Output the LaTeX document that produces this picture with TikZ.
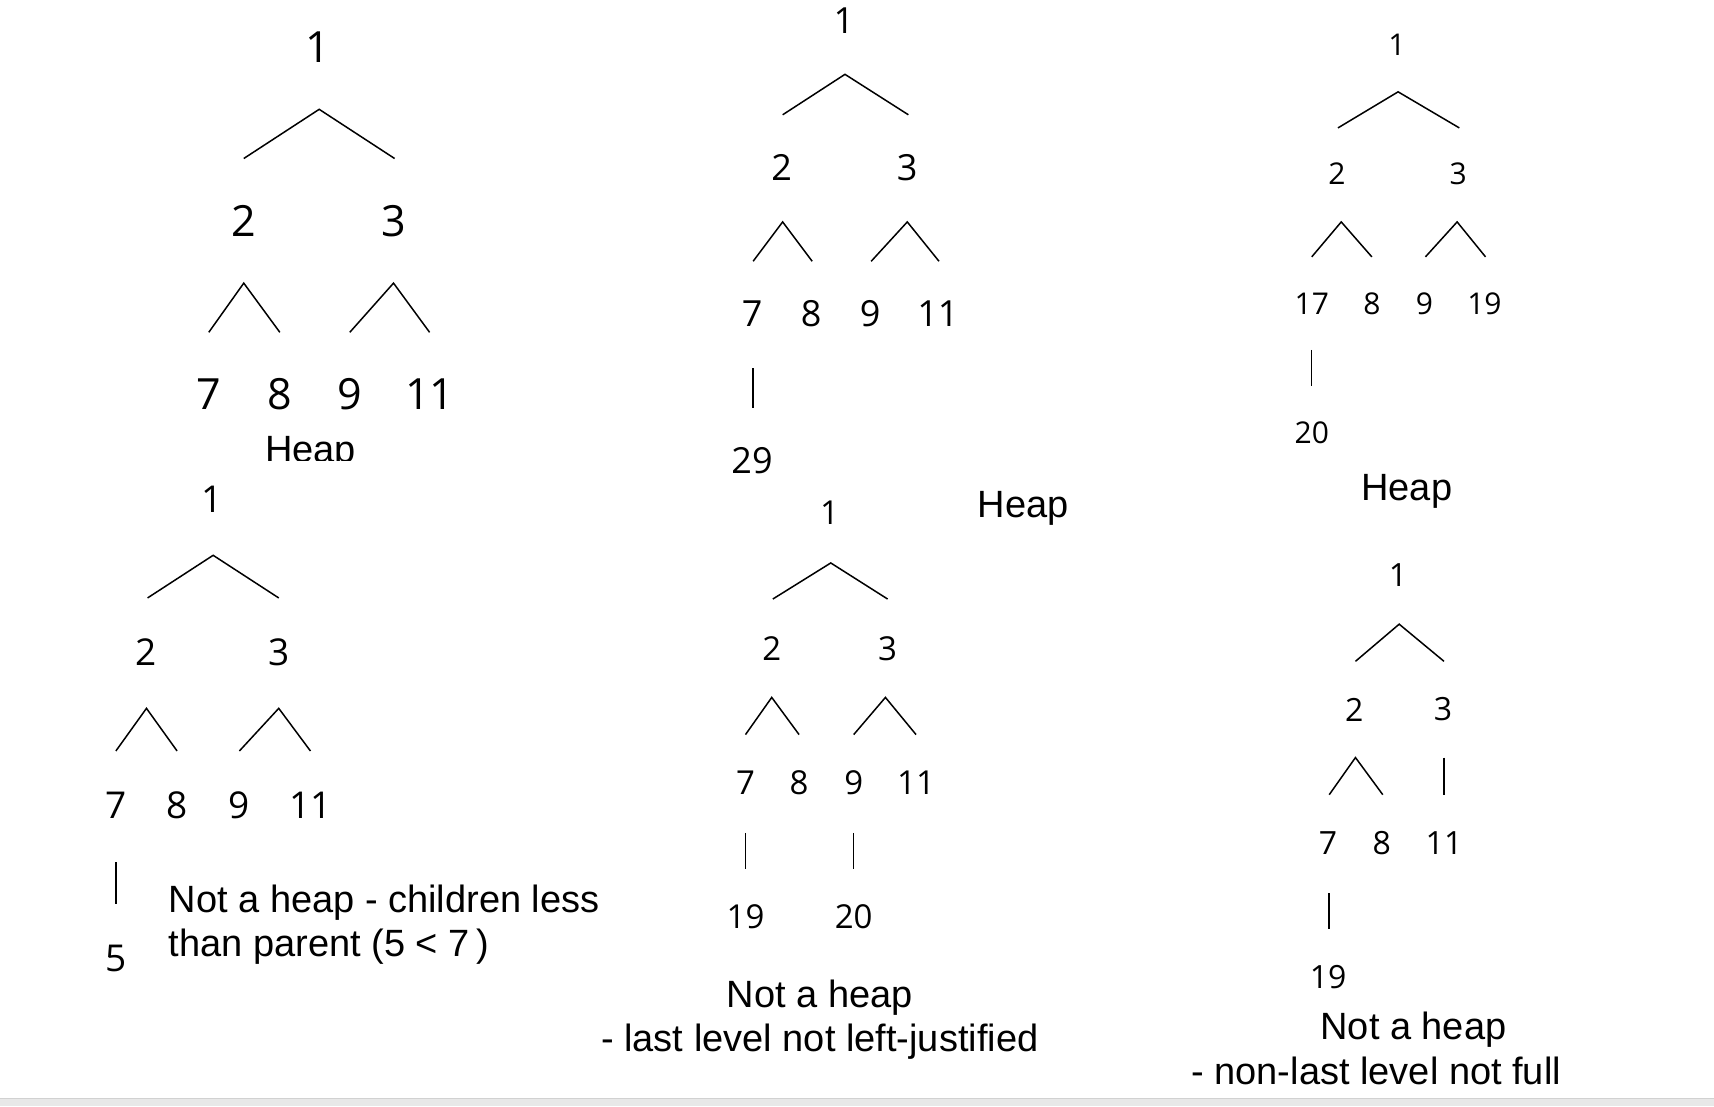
\documentclass[tikz,border=0pt]{standalone}
\usepackage{fontspec}
\setmainfont{Liberation Sans}
\newfontfamily\digitfont{Open Sans}
\newcommand\hvee[4]{\coordinate (#1) at #2; \coordinate (#1l) at #3; \coordinate (#1r) at #4; \draw[edge] (#1l) -- (#1) -- (#1r);}
\newcommand\hstem[3]{\coordinate (#1t) at #2; \coordinate (#1b) at #3; \draw[edge] (#1t) -- (#1b);}
\begin{document}
\begin{tikzpicture}[x=0.54655pt,y=-0.54655pt,
  edge/.style={line width=0.75pt,black},
  dA/.style={font=\digitfont\fontsize{21.5}{26}\selectfont,inner sep=0pt},
  dB/.style={font=\digitfont\fontsize{18}{22}\selectfont,inner sep=0pt},
  dC/.style={font=\digitfont\fontsize{15}{18}\selectfont,inner sep=0pt},
  dD/.style={font=\digitfont\fontsize{18.5}{22}\selectfont,inner sep=0pt},
  dE/.style={font=\digitfont\fontsize{16.5}{20}\selectfont,inner sep=0pt},
  dF/.style={font=\digitfont\fontsize{16}{19}\selectfont,inner sep=0pt},
  lbl/.style={font=\fontsize{19}{21.9}\selectfont,inner sep=0pt,anchor=base}]
\fill[white] (0,0) rectangle (1568,1012);
\useasboundingbox (0,0) rectangle (1568,1012);
% bottom band
\fill[black!9] (0,1005) rectangle (1568,1012);
\draw[black!18,line width=0.6pt] (0,1005) -- (1568,1005);

% ---------- Tree 1 ----------
\node[dA] (a1) at (291,43) {1};
\node[dA] (a2) at (223,202) {2};
\node[dA] (a3) at (360,202) {3};
\node[dA] (a7) at (191,361) {7};
\node[dA] (a8) at (256,361) {8};
\node[dA] (a9) at (320,361) {9};
\node[dA] (a11) at (393,361) {11};
\hvee{av1}{(292,100)}{(223,145)}{(361,145)}
\hvee{av2}{(223,259)}{(191,304)}{(256,304)}
\hvee{av3}{(360,259)}{(320,304)}{(393,304)}
\begin{scope}
\clip (200,380) rectangle (380,421);
\node[lbl] (aheap) at (284,423) {Heap};
\end{scope}

% ---------- Tree 2 ----------
\node[dB] (b1) at (772,19) {1};
\node[dB] (b2) at (715,153) {2};
\node[dB] (b3) at (830,153) {3};
\node[dB] (b7) at (688,287) {7};
\node[dB] (b8) at (742,287) {8};
\node[dB] (b9) at (796,287) {9};
\node[dB] (b11) at (858,287) {11};
\node[dB] (b29) at (688,421) {29};
\hvee{bv1}{(773,68)}{(716,105)}{(831,105)}
\hvee{bv2}{(716,203)}{(689,239)}{(743,239)}
\hvee{bv3}{(830,203)}{(797,239)}{(859,239)}
\hstem{bs1}{(689,337)}{(689,373)}
\node[lbl] (bheap) at (936,473) {Heap};

% ---------- Tree 3 ----------
\node[dC] (c1) at (1278,41) {1};
\node[dC] (c2) at (1223,159) {2};
\node[dC] (c3) at (1334,159) {3};
\node[dC] (c17) at (1200,278) {17};
\node[dC] (c8) at (1255,278) {8};
\node[dC] (c9) at (1303,278) {9};
\node[dC] (c19) at (1358,278) {19};
\node[dC] (c20) at (1200,396) {20};
\hvee{cv1}{(1279,84)}{(1224,117)}{(1335,117)}
\hvee{cv2}{(1227,203)}{(1200,235)}{(1255,235)}
\hvee{cv3}{(1333,203)}{(1304,235)}{(1359,235)}
\hstem{cs1}{(1200,320)}{(1200,353)}
\node[lbl] (cheap) at (1287,458) {Heap};

% ---------- Tree 4 ----------
\node[dD] (d1) at (194,457) {1};
\node[dD] (d2) at (134,597) {2};
\node[dD] (d3) at (255,597) {3};
\node[dD] (d7) at (106,737) {7};
\node[dD] (d8) at (162,737) {8};
\node[dD] (d9) at (219,737) {9};
\node[dD] (d11) at (284,737) {11};
\node[dD] (d5) at (106,877) {5};
\hvee{dv1}{(195,508)}{(135,547)}{(255,547)}
\hvee{dv2}{(134,648)}{(106,687)}{(162,687)}
\hvee{dv3}{(255,648)}{(219,687)}{(284,687)}
\hstem{ds1}{(106,789)}{(106,827)}
\node[lbl,anchor=base west] (dtext1) at (154,835) {Not a heap - children less};
\node[lbl,anchor=base west] (dtext2) at (154,875) {than parent (5 < 7\,)};

% ---------- Tree 5 ----------
\node[dE] (e1) at (759,469) {1};
\node[dE] (e2) at (706,593) {2};
\node[dE] (e3) at (812,593) {3};
\node[dE] (e7) at (682,716) {7};
\node[dE] (e8) at (731,716) {8};
\node[dE] (e9) at (781,716) {9};
\node[dE] (e11) at (838,716) {11};
\node[dE] (e19) at (682,839) {19};
\node[dE] (e20) at (781,839) {20};
\hvee{ev1}{(760,515)}{(707,548)}{(812,548)}
\hvee{ev2}{(706,638)}{(682,672)}{(731,672)}
\hvee{ev3}{(810,638)}{(781,672)}{(838,672)}
\hstem{es1}{(682,762)}{(682,795)}
\hstem{es2}{(781,762)}{(781,795)}
\node[lbl] (etext1) at (750,922) {Not a heap};
\node[lbl] (etext2) at (750,962) {- last level not left-justified};

% ---------- Tree 6 ----------
\node[dF] (f1) at (1279,526) {1};
\node[dF] (f2) at (1239,649) {2};
\node[dF] (f3) at (1320,649) {3};
\node[dF] (f7) at (1215,771) {7};
\node[dF] (f8) at (1264,771) {8};
\node[dF] (f11) at (1321,771) {11};
\node[dF] (f19) at (1215,894) {19};
\hvee{fv1}{(1280,571)}{(1240,605)}{(1321,605)}
\hvee{fv2}{(1240,693)}{(1216,727)}{(1265,727)}
\hstem{fs1}{(1321,693)}{(1321,727)}
\hstem{fs2}{(1216,817)}{(1216,850)}
\node[lbl] (ftext1) at (1293,951) {Not a heap};
\node[lbl] (ftext2) at (1259,992) {- non-last level not full};
\end{tikzpicture}
\end{document}
